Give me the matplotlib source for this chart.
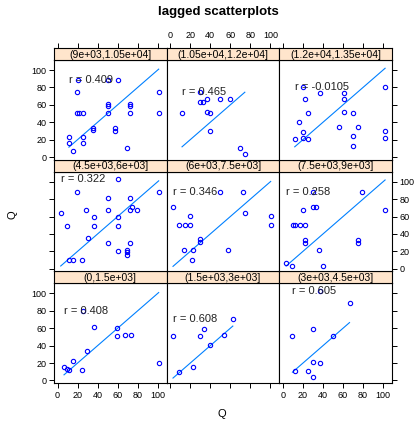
import matplotlib
matplotlib.use("Agg")
import matplotlib.pyplot as plt

plt.rcParams['font.family'] = ['Liberation Sans', 'DejaVu Sans']

# strip labels (bottom-left to top-right, lattice order)
strips = ['(0,1.5e+03]', '(1.5e+03,3e+03]', '(3e+03,4.5e+03]',
          '(4.5e+03,6e+03]', '(6e+03,7.5e+03]', '(7.5e+03,9e+03]',
          '(9e+03,1.05e+04]', '(1.05e+04,1.2e+04]', '(1.2e+04,1.35e+04]']
r_text = ['r = 0.408', 'r = 0.608', 'r = 0.605',
          'r = 0.322', 'r = 0.346', 'r = 0.258',
          'r = 0.409', 'r = 0.465', 'r = -0.0105']

# panel data
x1 = [25.7, 36.7, 59.5, 59.5, 67.2, 73.1, 29.7, 15.8, 6.5, 9.1, 11.8, 24.7, 101]
y1 = [80.2, 62.0, 60.8, 50.6, 51.7, 51.7, 34.2, 22.8, 15.2, 12.9, 12.5, 12.5, 20.5]
x2 = [62.5, 34.0, 2.8, 29.7, 53.9, 39.6, 22.7, 9.1]
y2 = [71.1, 58.9, 50.6, 50.6, 51.7, 40.3, 15.6, 10.3]
x3 = [36.7, 66.5, 30.0, 9.5, 49.6, 30.0, 37.3, 12.1, 24.7, 30.0]
y3 = [102.7, 88.6, 58.9, 50.6, 50.6, 21.7, 20.5, 10.6, 10.6, 3.8]
x4 = [60.5, 19.7, 101, 50.6, 72.8, 3.2, 28.4, 50.6, 72.8, 74.1, 79.4, 36.7, 60.5,
      9.8, 36.7, 60.5, 30.0, 50.6, 72.8, 60.5, 69.5, 69.5, 69.5, 11.4, 15.8, 24.7]
y4 = [103, 88.1, 88.1, 80.8, 80.8, 64.6, 67.3, 67.3, 67.3, 70.8, 67.3, 59.6, 59.6,
      49.6, 49.6, 49.6, 35.0, 29.2, 29.2, 20.0, 21.9, 18.8, 15.4, 9.6, 9.6, 10.0]
x5 = [50.2, 72.5, 2.8, 74.5, 19.7, 100.3, 8.8, 14.4, 19.7, 100.3, 29.4, 29.4,
      13.4, 22.7, 57.5, 21.7]
y5 = [88.1, 88.1, 70.8, 64.6, 60.4, 60.4, 50.0, 50.0, 50.0, 50.0, 33.8, 31.2,
      21.2, 21.2, 21.9, 9.6]
x6 = [29.7, 79.4, 20.1, 29.7, 33.3, 102, 9.8, 12.4, 17.4, 22.4, 21.7, 21.7,
      74.8, 74.8, 35.7, 3.2, 9.1, 40.0]
y6 = [87.7, 87.7, 67.3, 70.4, 70.4, 67.3, 50.0, 50.0, 50.0, 50.0, 32.7, 30.0,
      32.7, 30.0, 21.9, 6.9, 2.7, 2.7]
x7 = [20.7, 50.6, 60.5, 19.7, 101, 50.6, 50.6, 72.8, 72.8, 19.1, 21.7, 25.0, 50.6,
      72.8, 101, 35.0, 35.0, 57.2, 57.2, 11.4, 11.4, 25.0, 25.0, 69.5, 15.8]
y7 = [88.9, 88.5, 88.9, 74.4, 74.4, 61.5, 59.2, 61.5, 59.2, 51.1, 50.4, 50.4, 50.4,
      50.4, 51.1, 33.6, 31.3, 33.2, 30.5, 22.9, 16.4, 22.9, 16.4, 10.7, 6.5]
x8 = [30.0, 30.0, 32.3, 37.0, 49.6, 59.2, 11.8, 36.6, 39.6, 39.6, 69.2, 74.5]
y8 = [75.2, 63.7, 63.7, 66.8, 66.8, 66.8, 50.8, 51.5, 50.4, 30.2, 10.3, 3.1]
x9 = [20.1, 37.3, 60.5, 60.5, 21.7, 102, 24.7, 60.5, 69.5, 15.8, 55.6, 74.8,
      20.1, 102, 11.8, 20.1, 24.7, 69.5, 102, 69.5]
y9 = [80.2, 73.7, 73.7, 66.8, 66.8, 80.2, 50.8, 51.5, 50.8, 40.1, 35.1, 35.1,
      28.6, 29.4, 20.6, 21.8, 20.6, 24.4, 21.8, 12.2]

xs = [x1, x2, x3, x4, x5, x6, x7, x8, x9]
ys = [y1, y2, y3, y4, y5, y6, y7, y8, y9]
ticks = [0, 20, 40, 60, 80, 100]

W, H = 419.0, 421.0
fig = plt.figure(figsize=(W / 100, H / 100), dpi=100)

left0, pw = 54.0, 112.7
top0, rh, sh = 48.0, 111.7, 12.0

for i in range(9):
    row = 2 - i // 3   # 0 = top row
    col = i % 3
    lx = left0 + col * pw
    ty = top0 + row * rh
    ax = fig.add_axes([lx / W, (H - ty - rh) / H, pw / W, (rh - sh) / H])
    st = fig.add_axes([lx / W, (H - ty - sh) / H, pw / W, sh / H])

    x, y = xs[i], ys[i]
    lo, hi = min(x), max(x)
    ax.plot([lo, hi], [lo, hi], color='#0080ff', lw=0.8)
    ax.plot(x, y, 'o', mfc='none', mec='blue', ms=3.1, mew=0.8)
    ax.text(min(x), max(y), r_text[i], ha='left', va='center', fontsize=8,
            color='#222222')
    ax.set_xlim(-3.5, 109)
    ax.set_ylim(-3, 111.5)
    ax.set_xticks(ticks)
    ax.set_yticks(ticks)
    ax.tick_params(axis='x', direction='out', length=3.5, width=0.7,
                   labelsize=6.5, pad=2, top=False,
                   bottom=(row == 2), labelbottom=(row == 2 and col != 1))
    ax.tick_params(axis='y', direction='out', length=3.5, width=0.7,
                   labelsize=6.5, pad=2,
                   left=(col == 0), labelleft=(col == 0 and row != 1),
                   right=(col == 2), labelright=(col == 2 and row == 1))
    for s in ax.spines.values():
        s.set_linewidth(0.8)

    st.set_facecolor('#ffe5cc')
    st.set_xlim(-3.5, 109)
    st.set_ylim(0, 1)
    st.set_yticks([])
    st.text(0.5, 0.45, strips[i], transform=st.transAxes, ha='center',
            va='center', fontsize=7.5)
    if row == 0:
        st.set_xticks(ticks)
        st.tick_params(axis='x', direction='out', length=3.5, width=0.7,
                       labelsize=6.5, pad=2, bottom=False, labelbottom=False,
                       top=True, labeltop=(col == 1))
    else:
        st.set_xticks([])
    for s in st.spines.values():
        s.set_linewidth(0.8)

fig.text(218 / W, 1 - 12 / H, 'lagged scatterplots', ha='center', va='center',
         fontsize=9.5, fontweight='bold')
fig.text(222 / W, 1 - 414 / H, 'Q', ha='center', va='center', fontsize=8)
fig.text(12 / W, 1 - 215 / H, 'Q', ha='center', va='center', fontsize=8,
         rotation=90)

fig.savefig('out.png', dpi=100)
